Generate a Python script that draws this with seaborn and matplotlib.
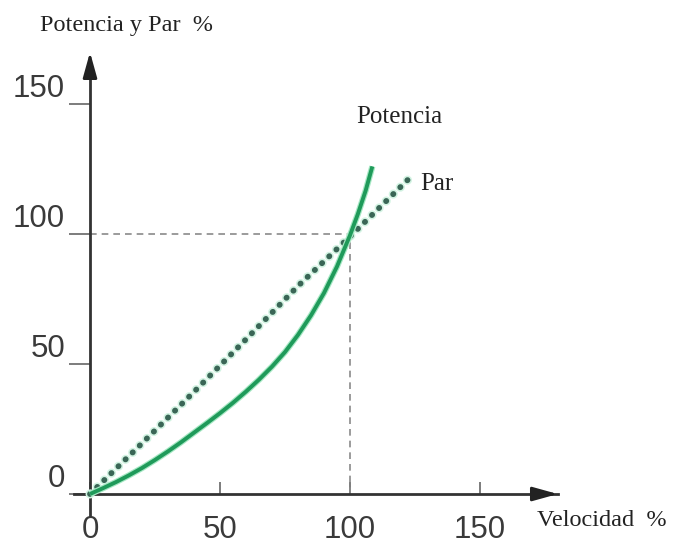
import matplotlib
matplotlib.use("Agg")
import matplotlib.pyplot as plt
import matplotlib.patheffects as pe
import seaborn as sns
import pandas as pd

# ---- data ----
potencia_x = [0, 5, 10, 15, 20, 25, 30, 35, 40, 45, 50, 55, 60, 65, 70, 75,
              80, 85, 90, 95, 100, 103, 106, 108.6]
potencia_y = [0, 2.25, 4.6, 7.2, 10, 13.1, 16.4, 19.9, 23.6, 27.3, 31.1, 35.1,
              39.4, 44, 49, 54.6, 61.2, 68.7, 77.3, 87.5, 99.5, 107.6, 116.6, 126]
par_x = [0, 20, 40, 60, 80, 100, 122.4]
par_y = [0, 19.5, 39.3, 59.5, 80, 99, 121]
x_ticks = [0, 50, 100, 150]
y_ticks = [0, 50, 100, 150]
ref_point = (100, 100)

sns.set_theme(style="white")
plt.rcParams["font.family"] = ["Liberation Sans", "DejaVu Sans"]

fig = plt.figure(figsize=(6.77, 5.46), dpi=100)
ax = fig.add_axes([0.1099, 0.0571, 0.7143, 0.8310])

df_pot = pd.DataFrame({"x": potencia_x, "y": potencia_y})
df_par = pd.DataFrame({"x": par_x, "y": par_y})

# reference dashed lines
ax.plot([0, ref_point[0]], [ref_point[1], ref_point[1]], color="#8a8a8a",
        lw=1.2, dashes=(4, 3), zorder=1)
ax.plot([ref_point[0], ref_point[0]], [0, ref_point[1]], color="#8a8a8a",
        lw=1.2, dashes=(4, 3), zorder=1)

# Par (dotted)
sns.lineplot(data=df_par, x="x", y="y", ax=ax, color="#3a6656", lw=4.2,
             linestyle=(0, (0.05, 1.65)), zorder=3,
             path_effects=[pe.Stroke(linewidth=6.5, foreground="#d2f3e2"), pe.Normal()])
ax.lines[-1].set_dash_capstyle("round")
# Potencia (solid)
sns.lineplot(data=df_pot, x="x", y="y", ax=ax, color="#1f9a5a", lw=2.8,
             zorder=4,
             path_effects=[pe.Stroke(linewidth=4.5, foreground="#a6e8c4"), pe.Normal()])
ax.lines[-1].set_solid_capstyle("butt")

ax.set_xlim(-6, 180)
ax.set_ylim(-8, 166.5)
ax.set_xlabel("")
ax.set_ylabel("")

# axes as arrows through the origin
for s in ["top", "right"]:
    ax.spines[s].set_visible(False)
ax.spines["left"].set_position(("data", 0))
ax.spines["bottom"].set_position(("data", 0))
for s in ["left", "bottom"]:
    ax.spines[s].set_color("#333333")
    ax.spines[s].set_linewidth(2)
ax.annotate("", xy=(181, 0), xytext=(174, 0),
            arrowprops=dict(arrowstyle="-|>,head_length=0.9,head_width=0.25",
                            color="#222222", lw=2, mutation_scale=17),
            annotation_clip=False)
ax.annotate("", xy=(0, 171), xytext=(0, 164),
            arrowprops=dict(arrowstyle="-|>,head_length=0.9,head_width=0.25",
                            color="#222222", lw=2, mutation_scale=17),
            annotation_clip=False)

ax.set_xticks(x_ticks)
ax.set_yticks(y_ticks)
ax.set_xticklabels([str(v) for v in x_ticks])
ax.set_yticklabels([str(v) for v in y_ticks])
ax.tick_params(axis="x", direction="in", length=9, width=1.2, colors="#666666",
               pad=15, labelsize=22.5, labelcolor="#3a3a3a", bottom=True)
ax.tick_params(axis="y", direction="out", length=15, width=1.2, colors="#666666",
               pad=3, labelsize=22.5, labelcolor="#3a3a3a", left=True)
for lab in ax.get_yticklabels():
    lab.set_verticalalignment("bottom")
ax.grid(False)

serif = ["Liberation Serif", "DejaVu Serif"]
W, H = 677, 546
fig.text(40 / W, 1 - 25 / H, "Potencia y Par  %", family=serif, fontsize=17.5,
         ha="left", va="center", color="#222222")
fig.text(399 / W, 1 - 117 / H, "Potencia", family=serif, fontsize=18,
         ha="center", va="center", color="#222222")
fig.text(420 / W, 1 - 184 / H, "Par", family=serif, fontsize=18,
         ha="left", va="center", color="#222222")
fig.text(537 / W, 1 - 521 / H, "Velocidad  %", family=serif, fontsize=17.5,
         ha="left", va="center", color="#222222")

fig.savefig("out.png", dpi=100)
